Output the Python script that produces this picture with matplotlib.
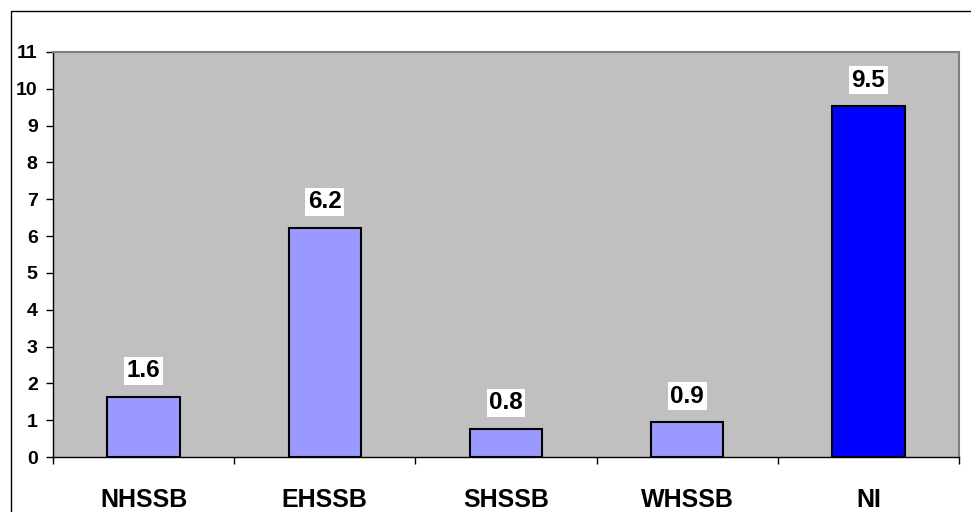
import numpy as np
import matplotlib
matplotlib.use("Agg")
from matplotlib import pyplot as plt
from matplotlib.patches import Rectangle

# values
categories = ["NHSSB", "EHSSB", "SHSSB", "WHSSB", "NI"]
values = [1.63, 6.21, 0.76, 0.94, 9.52]
value_labels = ["1.6", "6.2", "0.8", "0.9", "9.5"]
y_ticks = list(range(0, 12))

plt.rcParams['font.family'] = ['Liberation Sans', 'DejaVu Sans']
plt.rcParams['font.weight'] = 'bold'

fig = plt.figure(figsize=(9.71, 5.12), dpi=100)
fig.patch.set_facecolor("white")
ax = fig.add_axes([53/971, 1 - 457/512, (959 - 53)/971, (457 - 52)/512])
ax.set_facecolor("#C0C0C0")

# outer chart border (only top and left are in view)
fig.patches.append(Rectangle((11/971, -0.2), 1.2, 1.2 - 10.5/512,
                             transform=fig.transFigure, fill=False,
                             edgecolor="black", linewidth=1.0, clip_on=False))

x = np.arange(len(categories))
colors = ["#9999FF"] * 4 + ["#0000FF"]
ax.bar(x, values, width=0.4, color=colors, edgecolor="black", linewidth=1.5, zorder=3)

for xi, v, lab in zip(x, values, value_labels):
    ax.annotate(lab, (xi, v), xytext=(0, 19), textcoords="offset points",
                ha="center", va="center", fontsize=17.5, fontweight="bold",
                bbox=dict(boxstyle="square,pad=0.1", facecolor="white", edgecolor="none"))

ax.set_xlim(-0.5, len(categories) - 0.5)
ax.set_ylim(0, 11)
ax.set_yticks(y_ticks)
ax.tick_params(axis="y", direction="out", length=5, width=1, labelsize=14, pad=6)

# ticks at category boundaries, labels at centres
ax.set_xticks(np.arange(len(categories) + 1) - 0.5)
ax.set_xticklabels([])
ax.tick_params(axis="x", which="major", direction="out", length=5, width=1)
ax.set_xticks(x, minor=True)
ax.set_xticklabels(categories, minor=True, fontsize=18, fontweight="bold")
ax.tick_params(axis="x", which="minor", length=0, pad=22)

for side in ["top", "right"]:
    ax.spines[side].set_color("#808080")
    ax.spines[side].set_linewidth(1.5)
for side in ["left", "bottom"]:
    ax.spines[side].set_color("black")
    ax.spines[side].set_linewidth(1.0)

fig.savefig("out.png", dpi=100)
